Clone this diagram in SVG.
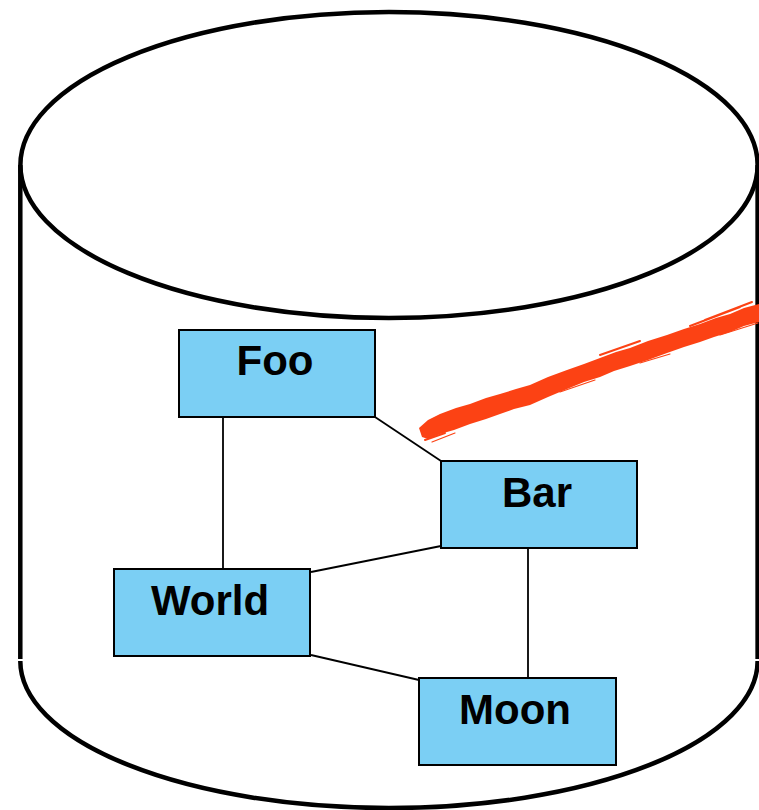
<svg xmlns="http://www.w3.org/2000/svg" width="759" height="810" viewBox="0 0 759 810">
<style>
.cyl{fill:none;stroke:#000;stroke-width:4.5}
.box{fill:#7BCFF4;stroke:#000;stroke-width:2}
.lbl{font-family:"Liberation Sans",Arial,sans-serif;font-weight:bold;font-size:42px;fill:#000;text-anchor:middle}
.edge{stroke:#000;stroke-width:1.8;fill:none}
.brush{fill:#FC4214}
.streak{fill:none;stroke:#FC4214;stroke-linecap:round}
</style>
<rect width="759" height="810" fill="#fff"/>
<g id="cylinder">
<ellipse class="cyl" cx="389" cy="165" rx="368.6" ry="153"/>
<path class="cyl" d="M20.3,165 V659 M757.6,165 V659"/>
<path class="cyl" d="M20.3,661 A368.6,147 0 0 0 757.6,661"/>
</g>
<g id="brush">
<path class="brush" d="M419,428 L428,420 L440,414 L456,408 L470,404 L486,398 L500,394 L516,389 L530,385 L548,377 L567,370 L584,364 L600,358 L616,352 L630,348 L648,341 L667,335 L684,329 L700,324 L716,318 L730,314 L744,308 L759,304 L759,322 L744,326 L730,332 L714,337 L700,342 L684,347 L667,353 L648,360 L630,366 L614,371 L600,377 L584,382 L567,389 L548,397 L530,405 L514,409 L500,414 L486,419 L470,424 L454,430 L440,434 L428,439 L422,437 Z"/>
<path class="streak" stroke-width="2" d="M425,440 L445,433 M600,355 L640,341 M690,326 L740,307 M705,320 L752,302"/>
<path class="streak" stroke-width="1.2" d="M432,442 L455,433 M560,392 L595,380 M720,335 L758,323 M640,363 L670,354"/>
</g>
<g id="connectors">
<path class="edge" d="M223,417 V569"/>
<path class="edge" d="M375,417 L441,461"/>
<path class="edge" d="M441,546 L311,572"/>
<path class="edge" d="M311,655 L419,680"/>
<path class="edge" d="M528,548 V678"/>
</g>
<g id="node-foo">
<rect class="box" x="179" y="330" width="196" height="87"/>
<text class="lbl" x="275" y="375">Foo</text>
</g>
<g id="node-bar">
<rect class="box" x="441" y="461" width="196" height="87"/>
<text class="lbl" x="537" y="507">Bar</text>
</g>
<g id="node-world">
<rect class="box" x="114" y="569" width="196" height="87"/>
<text class="lbl" x="210" y="615">World</text>
</g>
<g id="node-moon">
<rect class="box" x="419" y="678" width="197" height="87"/>
<text class="lbl" x="515" y="724">Moon</text>
</g>
</svg>
